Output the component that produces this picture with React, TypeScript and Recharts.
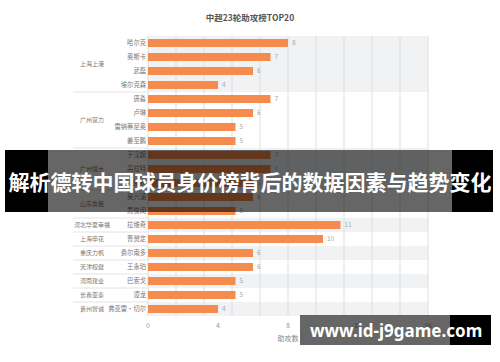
import { BarChart, Bar, XAxis, YAxis, CartesianGrid, ReferenceArea, LabelList } from 'recharts';

const players = [
  '哈尔克', '奥斯卡', '武磊', '埃尔克森',
  '唐淼', '卢琳', '雷纳蒂尼奥', '姜至鹏',
  '于汉超', '高拉特', '郜林',
  '吴兴涵', '蒿俊闵',
  '拉维奇', '曹赟定', '费尔南多', '王永珀', '巴索戈', '谭龙', '弗亚雷·切尔',
];
const assists = [8, 7, 6, 4, 7, 6, 5, 5, 7, 7, 6, 6, 5, 11, 10, 6, 6, 5, 5, 4];
const teams = [
  '上海上港', '上海上港', '上海上港', '上海上港',
  '广州富力', '广州富力', '广州富力', '广州富力',
  '广州恒大', '广州恒大', '广州恒大',
  '山东鲁能', '山东鲁能',
  '河北华夏幸福', '上海申花', '重庆力帆', '天津权健', '河南建业', '长春亚泰', '贵州智诚',
];
const xTicks = [0, 4, 8, 12, 16];

const data = players.map((player, i) => ({ player, assists: assists[i], team: teams[i] }));

// consecutive rows of the same club form one group
const groups: { team: string; start: number; end: number }[] = [];
teams.forEach((team, i) => {
  const last = groups[groups.length - 1];
  if (last && last.team === team) last.end = i;
  else groups.push({ team, start: i, end: i });
});

const ROW = 14;

function RowTick(props: any) {
  const { x, y, payload, index } = props;
  const g = groups.find((gr) => gr.start === index);
  return (
    <g>
      <text x={x} y={y} dy={2.3} textAnchor="end" fontSize={6.3} fill="#777">{payload.value}</text>
      {g && (
        <text x={92} y={y + ((g.end - g.start) * ROW) / 2} dy={2.2} textAnchor="middle" fontSize={6} fill="#777">
          {g.team}
        </text>
      )}
      {g && g.start > 0 && (
        <line x1={73} x2={x + 2} y1={y - ROW / 2} y2={y - ROW / 2} stroke="#e4e4e4" strokeWidth={1} />
      )}
    </g>
  );
}

export default function App() {
  return (
    <div
      style={{
        position: 'absolute', left: 0, top: 0, width: 500, height: 362, background: '#fff',
        overflow: 'hidden', fontFamily: '"Noto Sans CJK SC", "Noto Sans", sans-serif',
      }}
    >
      <div style={{ position: 'absolute', top: 11, width: 500, textAlign: 'center', fontSize: 8.5, fontWeight: 700, color: '#555' }}>
        中超23轮助攻榜TOP20
      </div>
      <BarChart
        width={500}
        height={362}
        data={data}
        layout="vertical"
        margin={{ top: 36, right: 72, bottom: 16, left: 0 }}
      >
        {groups.filter((_, i) => i % 2 === 0).map((g) => (
          <ReferenceArea
            key={g.team}
            y1={players[g.start]}
            y2={players[g.end]}
            fill="#f1f2f4"
            fillOpacity={1}
            stroke="none"
            zIndex={-150}
          />
        ))}
        <CartesianGrid
          horizontal={false}
          stroke="#dedede"
          verticalCoordinatesGenerator={({ offset }: any) =>
            Array.from({ length: 11 }, (_, i) => offset.left + (offset.width * i) / 10)
          }
        />
        <XAxis
          type="number"
          domain={[0, 16]}
          ticks={xTicks}
          axisLine={false}
          tickLine={false}
          tickSize={0}
          tickMargin={7}
          height={30}
          tick={{ fontSize: 7, fill: '#999' }}
          label={{ value: '助攻数', position: 'insideBottom', offset: 5, fontSize: 7, fill: '#888' }}
        />
        <YAxis
          type="category"
          dataKey="player"
          width={148}
          axisLine={false}
          tickLine={false}
          tickSize={0}
          tickMargin={2}
          interval={0}
          tick={<RowTick />}
        />
        <Bar dataKey="assists" fill="#f58b4c" barSize={8} isAnimationActive={false}>
          <LabelList dataKey="assists" position="right" offset={4} fontSize={6.5} fill="#aaa" />
        </Bar>
      </BarChart>

      {/* headline banner */}
      <div style={{ position: 'absolute', left: 5, top: 150, width: 43, height: 62, background: '#000' }} />
      <div style={{ position: 'absolute', left: 48, top: 150, width: 404, height: 62, background: 'rgba(0,0,0,0.6)' }} />
      <div style={{ position: 'absolute', left: 452, top: 150, width: 41, height: 62, background: '#000' }} />
      <div
        style={{
          position: 'absolute', left: 0, top: 150, width: 500, height: 62, display: 'flex',
          alignItems: 'center', justifyContent: 'center', color: '#fff', fontSize: 21, fontWeight: 700,
          whiteSpace: 'nowrap',
        }}
      >
        解析德转中国球员身价榜背后的数据因素与趋势变化
      </div>

      {/* watermark */}
      <div style={{ position: 'absolute', left: 300, top: 315, width: 150, height: 30, background: 'rgba(0,0,0,0.6)' }} />
      <div style={{ position: 'absolute', left: 450, top: 315, width: 41, height: 30, background: '#000' }} />
      <div
        style={{
          position: 'absolute', left: 310, top: 315, height: 30, display: 'flex', alignItems: 'center',
          color: '#fff', fontSize: 17, fontWeight: 700, fontFamily: '"Noto Sans", sans-serif', whiteSpace: 'nowrap',
        }}
      >
        www.id-j9game.com
      </div>
    </div>
  );
}
